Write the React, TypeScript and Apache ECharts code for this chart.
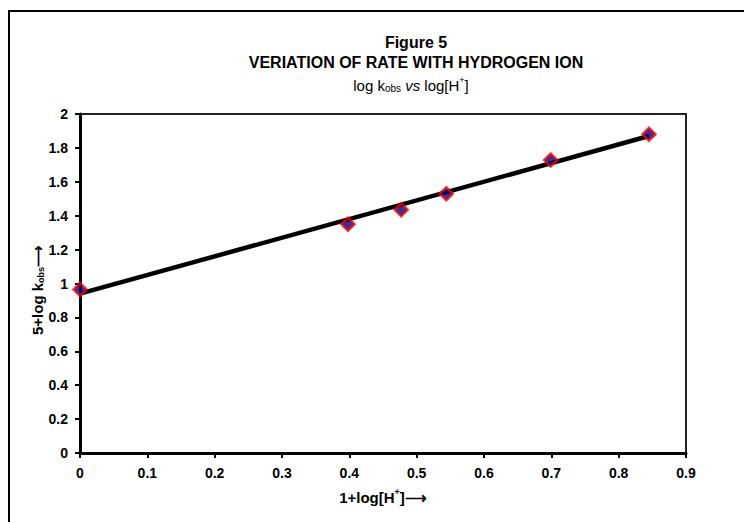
import React, { useEffect, useRef } from "react";
import * as echarts from "echarts";

const obsX = [0, 0.398, 0.477, 0.544, 0.699, 0.845];
const obsY = [0.965, 1.35, 1.435, 1.53, 1.728, 1.88];
const fitX = [0, 0.845];
const fitY = [0.94, 1.87];
const xTicks = [0, 0.1, 0.2, 0.3, 0.4, 0.5, 0.6, 0.7, 0.8, 0.9];
const yTicks = [0, 0.2, 0.4, 0.6, 0.8, 1, 1.2, 1.4, 1.6, 1.8, 2];

const FONT = "'Liberation Sans', Arial, sans-serif";

export default function App() {
  const ref = useRef<HTMLDivElement>(null);
  useEffect(() => {
    document.body.style.margin = "0";
    const chart = echarts.init(ref.current!, null, { renderer: "svg" });
    chart.setOption({
      animation: false,
      backgroundColor: "#ffffff",
      textStyle: { fontFamily: FONT },
      title: [
        {
          text: "Figure 5\nVERIATION OF RATE WITH HYDROGEN ION",
          left: 411,
          top: 27,
          textAlign: "center",
          textStyle: { fontFamily: FONT, fontSize: 16, fontWeight: "bold", color: "#000", lineHeight: 20 },
        },
      ],
      graphic: [
        {
          type: "rect",
          shape: { x: 9, y: 11, width: 800, height: 600 },
          style: { fill: "none", stroke: "#000", lineWidth: 2 },
          silent: true,
        },
        {
          type: "text",
          x: 411,
          y: 85,
          silent: true,
          style: {
            text: "{a|log k}{sub|obs}{a| }{i|vs}{a| log[H}{sup|+}{a|]}",
            align: "center",
            verticalAlign: "middle",
            fontFamily: FONT,
            fill: "#000",
            rich: {
              a: { fontFamily: FONT, fontSize: 15, fontWeight: "normal", fill: "#000" },
              i: { fontFamily: FONT, fontSize: 15, fontStyle: "italic", fontWeight: "normal", fill: "#000" },
              sub: { fontFamily: FONT, fontSize: 10, fontWeight: "normal", fill: "#000", padding: [7, 0, 0, 0] },
              sup: { fontFamily: FONT, fontSize: 9, fontWeight: "normal", fill: "#000", padding: [0, 0, 11, 0] },
            },
          },
        },
        {
          type: "text",
          x: 37,
          y: 290,
          rotation: Math.PI / 2,
          silent: true,
          style: {
            text: "{a|5+log k}{sub|obs}{a|⟶}",
            align: "center",
            verticalAlign: "middle",
            fontFamily: FONT,
            fill: "#000",
            rich: {
              a: { fontFamily: FONT, fontSize: 15, fontWeight: "bold", fill: "#000" },
              sub: { fontFamily: FONT, fontSize: 9, fontWeight: "bold", fill: "#000", padding: [7, 0, 0, 0] },
            },
          },
        },
      ],
      grid: {
        left: 80,
        right: 58,
        top: 114,
        bottom: 69,
        show: true,
        borderColor: "#222",
        borderWidth: 2,
        backgroundColor: "transparent",
      },
      xAxis: {
        type: "value",
        min: xTicks[0],
        max: xTicks[xTicks.length - 1],
        interval: 0.1,
        name: "1+log[H{sup|+}]⟶",
        nameLocation: "middle",
        nameGap: 34,
        nameTextStyle: {
          fontFamily: FONT,
          fontSize: 15,
          fontWeight: "bold",
          color: "#000",
          rich: {
            sup: { fontFamily: FONT, fontSize: 9, fontWeight: "bold", color: "#000", padding: [0, 0, 11, 0] },
          },
        },
        splitLine: { show: false },
        axisLine: { show: true, onZero: false, lineStyle: { color: "#000", width: 3 } },
        axisTick: { show: true, inside: false, length: 5, lineStyle: { color: "#000", width: 2 } },
        axisLabel: {
          margin: 13,
          fontFamily: FONT,
          fontSize: 14,
          fontWeight: "bold",
          color: "#000",
          formatter: (v: number) => String(Math.round(v * 10) / 10),
        },
      },
      yAxis: {
        type: "value",
        min: yTicks[0],
        max: yTicks[yTicks.length - 1],
        interval: 0.2,
        splitLine: { show: false },
        axisLine: { show: true, onZero: false, lineStyle: { color: "#000", width: 3 } },
        axisTick: { show: true, inside: false, length: 5, lineStyle: { color: "#000", width: 2 } },
        axisLabel: {
          margin: 12,
          fontFamily: FONT,
          fontSize: 14,
          fontWeight: "bold",
          color: "#000",
          formatter: (v: number) => String(Math.round(v * 10) / 10),
        },
      },
      series: [
        {
          type: "line",
          data: fitX.map((x, i) => [x, fitY[i]]),
          showSymbol: false,
          symbol: "none",
          lineStyle: { color: "#000", width: 4.5 },
          z: 2,
        },
        {
          type: "scatter",
          data: obsX.map((x, i) => [x, obsY[i]]),
          symbol: "diamond",
          symbolSize: 13,
          itemStyle: { color: "#000080", borderColor: "#ff0000", borderWidth: 2.5 },
          z: 3,
        },
      ],
    });
    return () => chart.dispose();
  }, []);
  return <div ref={ref} style={{ width: 744, height: 522 }} />;
}
